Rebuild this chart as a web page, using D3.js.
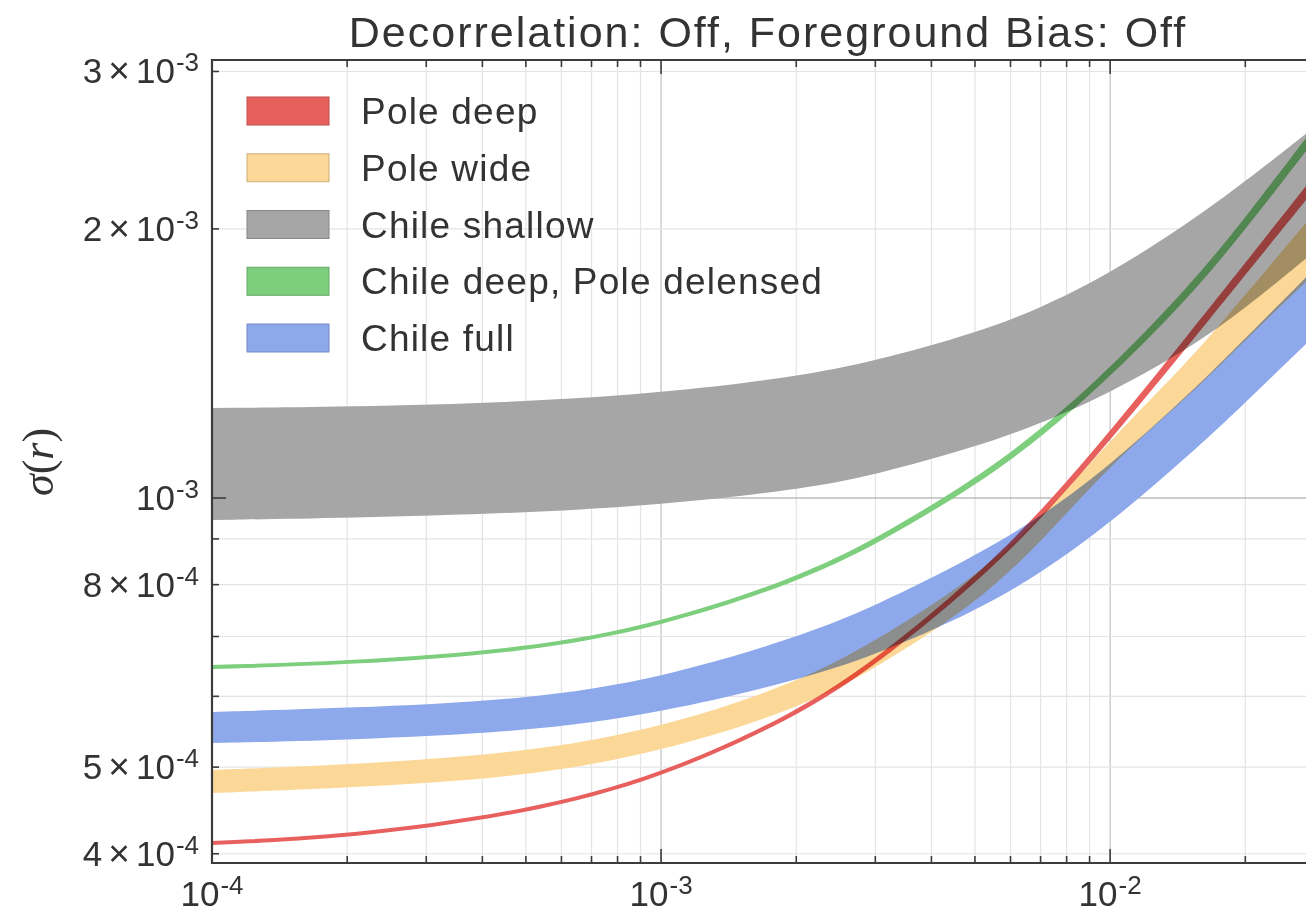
<!DOCTYPE html>
<html>
<head>
<meta charset="utf-8">
<script src="https://cdn.jsdelivr.net/npm/d3@7"></script>
<style>
  html, body { margin: 0; padding: 0; background: #ffffff; }
  svg { display: block; font-family: "Liberation Sans", Arial, sans-serif; }
</style>
</head>
<body>
<svg id="chart" width="1306" height="912"></svg>
<script>
// Tensor-to-scalar ratio r at which each forecast band is sampled
const rValues = [1e-4, 2e-4, 5e-4, 1e-3, 2e-3, 3e-3, 5e-3, 7e-3, 1e-2, 1.5e-2, 2e-2, 2.73e-2];

// sigma(r) bands: lower / upper edge for each configuration
const poleDeepLow  = [4.091e-4, 4.155e-4, 4.420e-4, 4.850e-4, 5.682e-4, 6.487e-4, 8.004e-4, 9.449e-4, 1.1596e-3, 1.485e-3, 1.777e-3, 2.154e-3];
const poleDeepHigh = [4.134e-4, 4.198e-4, 4.466e-4, 4.900e-4, 5.755e-4, 6.588e-4, 8.150e-4, 9.646e-4, 1.1867e-3, 1.528e-3, 1.832e-3, 2.234e-3];

const poleWideLow  = [4.678e-4, 4.739e-4, 4.872e-4, 5.203e-4, 5.795e-4, 6.442e-4, 7.598e-4, 8.907e-4, 1.0901e-3, 1.3005e-3, 1.5023e-3, 1.7446e-3];
const poleWideHigh = [4.964e-4, 5.028e-4, 5.186e-4, 5.529e-4, 6.204e-4, 6.910e-4, 8.150e-4, 9.474e-4, 1.1614e-3, 1.4236e-3, 1.6878e-3, 2.0313e-3];

const chileShallowLow  = [9.449e-4, 9.498e-4, 9.621e-4, 9.824e-4, 1.0206e-3, 1.0607e-3, 1.1402e-3, 1.2108e-3, 1.3110e-3, 1.4693e-3, 1.6300e-3, 1.8537e-3];
const chileShallowHigh = [1.2609e-3, 1.2645e-3, 1.2809e-3, 1.3103e-3, 1.3660e-3, 1.4228e-3, 1.5292e-3, 1.6296e-3, 1.7835e-3, 2.0313e-3, 2.2604e-3, 2.5551e-3];

const chileDeepLow  = [6.437e-4, 6.504e-4, 6.716e-4, 7.173e-4, 8.039e-4, 8.850e-4, 1.0316e-3, 1.1661e-3, 1.365e-3, 1.676e-3, 1.995e-3, 2.444e-3];
const chileDeepHigh = [6.504e-4, 6.571e-4, 6.786e-4, 7.248e-4, 8.144e-4, 8.988e-4, 1.0504e-3, 1.1904e-3, 1.397e-3, 1.724e-3, 2.058e-3, 2.528e-3];

const chileFullLow  = [5.321e-4, 5.362e-4, 5.475e-4, 5.748e-4, 6.249e-4, 6.669e-4, 7.467e-4, 8.232e-4, 9.371e-4, 1.1163e-3, 1.2785e-3, 1.4866e-3];
const chileFullHigh = [5.763e-4, 5.822e-4, 5.945e-4, 6.286e-4, 6.976e-4, 7.568e-4, 8.607e-4, 9.517e-4, 1.0876e-3, 1.3062e-3, 1.5089e-3, 1.7660e-3];

const seriesNames  = ["Pole deep", "Pole wide", "Chile shallow", "Chile deep, Pole delensed", "Chile full"];
const seriesColors = ["#e8605e", "#fbd898", "#a6a6a6", "#7dcf7d", "#8ea8ec"];
const seriesLow  = [poleDeepLow, poleWideLow, chileShallowLow, chileDeepLow, chileFullLow];
const seriesHigh = [poleDeepHigh, poleWideHigh, chileShallowHigh, chileDeepHigh, chileFullHigh];

// Axis ticks and their labels ([mantissa, exponent])
const xGridValues = [1e-4,2e-4,3e-4,4e-4,5e-4,6e-4,7e-4,8e-4,9e-4,
                     1e-3,2e-3,3e-3,4e-3,5e-3,6e-3,7e-3,8e-3,9e-3,1e-2,2e-2];
const xDecades = [1e-4, 1e-3, 1e-2];
const xTickLabels = [["10", "-4"], ["10", "-3"], ["10", "-2"]];
const yTickValues = [4e-4, 5e-4, 6e-4, 7e-4, 8e-4, 9e-4, 1e-3, 2e-3, 3e-3];
const yLabelValues = [3e-3, 2e-3, 1e-3, 8e-4, 5e-4, 4e-4];
const yTickLabels = [["3", "-3"], ["2", "-3"], ["", "-3"], ["8", "-4"], ["5", "-4"], ["4", "-4"]];

const titleText = "Decorrelation: Off, Foreground Bias: Off";

// ---- layout ----
const svg = d3.select("#chart");
const plot = { left: 212, right: 1306, top: 60, bottom: 863 };

const x = d3.scaleLog().domain([1e-4, 2.73e-2]).range([plot.left, plot.right]);
const y = d3.scaleLog().domain([3.906e-4, 3.09e-3]).range([plot.bottom, plot.top]);

const isDecade = v => Math.abs(Math.log10(v) - Math.round(Math.log10(v))) < 1e-9;

// ---- grid ----
const grid = svg.append("g");
grid.selectAll("line.vx").data(xGridValues).join("line")
  .attr("x1", d => x(d)).attr("x2", d => x(d))
  .attr("y1", plot.top).attr("y2", plot.bottom)
  .attr("stroke", d => isDecade(d) ? "#c2c2c2" : "#e4e4e4")
  .attr("stroke-width", 1.2);
grid.selectAll("line.hy").data(yTickValues).join("line")
  .attr("x1", plot.left).attr("x2", plot.right)
  .attr("y1", d => y(d)).attr("y2", d => y(d))
  .attr("stroke", d => isDecade(d) ? "#9c9c9c" : "#e4e4e4")
  .attr("stroke-width", 1.2);

// ---- bands ----
svg.append("clipPath").attr("id", "plotClip")
  .append("rect")
  .attr("x", plot.left).attr("y", plot.top)
  .attr("width", plot.right - plot.left).attr("height", plot.bottom - plot.top);

const bands = svg.append("g").attr("clip-path", "url(#plotClip)");
const area = d3.area()
  .x(d => x(d.r))
  .y0(d => y(d.lo))
  .y1(d => y(d.hi))
  .curve(d3.curveBasis);

seriesNames.forEach((name, i) => {
  const pts = rValues.map((r, k) => ({ r, lo: seriesLow[i][k], hi: seriesHigh[i][k] }));
  bands.append("path")
    .datum(pts)
    .attr("d", area)
    .attr("fill", seriesColors[i])
    .style("mix-blend-mode", "multiply");
});

// ---- axes frame and ticks ----
const axisColor = "#3c3c3c";
const frame = svg.append("g");
frame.append("line").attr("x1", plot.left).attr("x2", plot.right)
  .attr("y1", plot.bottom).attr("y2", plot.bottom)
  .attr("stroke", axisColor).attr("stroke-width", 2.2);
frame.append("line").attr("x1", plot.left).attr("x2", plot.right)
  .attr("y1", plot.top).attr("y2", plot.top)
  .attr("stroke", axisColor).attr("stroke-width", 2.2);
frame.append("line").attr("x1", plot.left).attr("x2", plot.left)
  .attr("y1", plot.top - 1).attr("y2", plot.bottom + 1)
  .attr("stroke", axisColor).attr("stroke-width", 2.2);

const tickLen = d => isDecade(d) ? 14 : 7;
frame.selectAll("line.bt").data(xGridValues).join("line")
  .attr("x1", d => x(d)).attr("x2", d => x(d))
  .attr("y1", plot.bottom).attr("y2", d => plot.bottom - tickLen(d))
  .attr("stroke", axisColor).attr("stroke-width", 1.6);
frame.selectAll("line.tt").data(xGridValues).join("line")
  .attr("x1", d => x(d)).attr("x2", d => x(d))
  .attr("y1", plot.top).attr("y2", d => plot.top + tickLen(d))
  .attr("stroke", axisColor).attr("stroke-width", 1.6);
frame.selectAll("line.lt").data(yTickValues).join("line")
  .attr("x1", plot.left).attr("x2", d => plot.left + tickLen(d))
  .attr("y1", d => y(d)).attr("y2", d => y(d))
  .attr("stroke", axisColor).attr("stroke-width", 1.6);

// ---- tick labels ----
const labelColor = "#333333";
const labelSize = 35, supSize = 26;

function addPowerLabel(t, mant, exp) {
  if (mant !== "") {
    t.append("tspan").text(mant);
    t.append("tspan").text("\u00D7").attr("dx", 6).attr("font-size", 37);
    t.append("tspan").text("10").attr("dx", 6);
  } else {
    t.append("tspan").text("10");
  }
  t.append("tspan").text(exp).attr("font-size", supSize).attr("dx", 1).attr("dy", -12);
}

yLabelValues.forEach((v, i) => {
  const t = svg.append("text")
    .attr("x", 199).attr("y", y(v) + 12)
    .attr("text-anchor", "end")
    .attr("font-size", labelSize)
    .attr("fill", labelColor);
  addPowerLabel(t, yTickLabels[i][0], yTickLabels[i][1]);
});

xDecades.forEach((v, i) => {
  const t = svg.append("text")
    .attr("x", x(v)).attr("y", 906)
    .attr("text-anchor", "middle")
    .attr("font-size", labelSize)
    .attr("fill", labelColor);
  addPowerLabel(t, "", xTickLabels[i][1]);
});

// ---- title ----
svg.append("text")
  .attr("x", 768).attr("y", 47)
  .attr("text-anchor", "middle")
  .attr("font-size", 43)
  .attr("letter-spacing", 2)
  .attr("fill", labelColor)
  .text(titleText);

// ---- y-axis label: sigma(r) ----
const yl = svg.append("text")
  .attr("transform", "translate(53,462) rotate(-90)")
  .attr("text-anchor", "middle")
  .attr("font-family", "'Liberation Serif', 'DejaVu Serif', serif")
  .attr("font-size", 44)
  .attr("fill", labelColor);
yl.append("tspan").attr("font-style", "italic").text("\u03C3");
yl.append("tspan").text("(");
yl.append("tspan").attr("font-style", "italic").text("r");
yl.append("tspan").text(")");

// ---- legend ----
const legend = svg.append("g");
seriesNames.forEach((name, i) => {
  const top = 97 + i * 56.75;
  legend.append("rect")
    .attr("x", 247).attr("y", top)
    .attr("width", 82).attr("height", 28)
    .attr("fill", seriesColors[i])
    .attr("stroke", d3.color(seriesColors[i]).darker(0.6))
    .attr("stroke-width", 1);
  legend.append("text")
    .attr("x", 361).attr("y", top + 27)
    .attr("font-size", 37)
    .attr("letter-spacing", 1.2)
    .attr("fill", labelColor)
    .text(name);
});
</script>
</body>
</html>
